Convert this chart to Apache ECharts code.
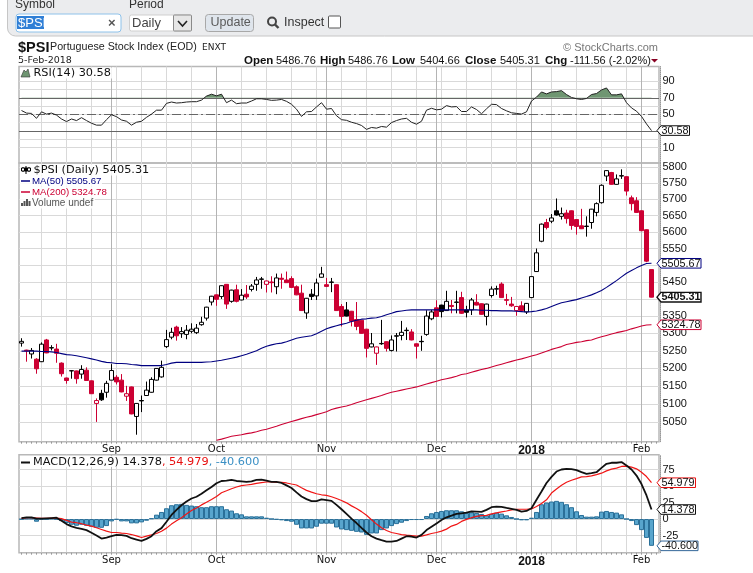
<!DOCTYPE html>
<html><head><meta charset="utf-8">
<style>html,body{margin:0;padding:0;background:#fff}#c{width:753px;height:573px}</style>
<script src="https://cdn.jsdelivr.net/npm/echarts@6/dist/echarts.min.js"></script>
</head><body><div id="c"></div>
<script>
const opens=[5272,5252,5241,5226,5219,5281,5259,5255,5215,5173,5193.5,5193,5184,5195,5165,5102,5130,5133,5167,5175,5167,5122,5148,5066,5110,5124,5133,5167,5176,5262,5289,5318,5299,5297,5306,5302,5325,5344,5391,5412,5407,5443,5393,5427,5397,5414,5428,5443,5459,5443,5450,5436,5461,5456,5460,5436,5417,5359,5414,5409,5464,5442,5450,5442,5378,5368,5364,5340,5338,5312,5261,5243,5271,5276,5251,5293,5294,5309,5304,5270,5277,5297,5342,5374,5382,5366,5381,5391,5404,5368,5368,5390,5386,5349,5410,5430,5444,5398,5385,5366,5380,5362,5404,5481,5572,5629,5633,5665,5648,5658,5665,5638,5619,5618,5629,5660,5690,5773,5784,5747,5774,5771,5705,5696,5665,5607,5486.76];
const closes=[5277,5250,5251,5199,5269,5244,5258,5243,5185,5166,5193,5171,5197,5166,5129,5110,5112,5158,5194,5162,5134,5129,5073,5102,5109,5139,5169,5200,5203,5282,5303,5293,5305,5309,5312,5315,5332,5376,5408,5399,5439,5385,5426,5393,5411,5406,5438,5456,5458,5453,5448,5462,5458,5448,5434,5412,5366,5402,5407,5447,5474,5437,5449,5366,5349,5350,5335,5320,5300,5257,5270,5261,5270,5257,5281,5292,5303,5308,5281,5263,5276,5350,5362,5349,5363,5393,5378,5390,5358,5361,5397,5382,5355,5385,5429,5429,5404,5396,5380,5378,5366,5387,5466,5537,5624,5614,5643,5652,5656,5641,5620,5617,5610,5617,5670,5687,5744,5790,5747,5764,5773,5726,5687,5660,5604,5512,5405.31];
const lows=[5262,5219,5228,5185,5218,5243,5251,5216,5177,5157,5171,5157,5171,5165,5129,5051,5109,5118,5167,5155,5133,5109,5072,5016,5078,5123,5132,5166,5174,5258,5283,5279,5287,5283,5300,5298,5322,5337,5381,5380,5400,5371,5389,5390,5396,5400,5422,5424,5430,5419,5419,5414,5430,5447,5432,5411,5365,5342,5397,5397,5463,5435,5420,5365,5320,5349,5320,5309,5299,5231,5260,5210,5267,5248,5248,5248,5280,5281,5280,5228,5250,5293,5338,5348,5346,5365,5358,5358,5356,5346,5353,5381,5354,5323,5404,5412,5403,5382,5377,5351,5363,5356,5403,5480,5569,5608,5627,5650,5638,5626,5607,5592,5609,5586,5610,5648,5687,5757,5746,5746,5764,5712,5666,5659,5603,5509,5404.66];
const highs=[5286,5253,5258,5229,5274,5284,5266,5270,5217,5174,5195,5194,5209,5203,5166,5116,5140,5165,5212,5181,5184,5151,5149,5103,5124,5163,5175,5201,5222,5310,5316,5322,5318,5324,5329,5327,5348,5377,5409,5413,5440,5444,5427,5442,5429,5441,5444,5465,5465,5454,5467,5475,5475,5481,5467,5440,5442,5403,5429,5460,5495,5462,5462,5443,5385,5391,5365,5391,5339,5313,5301,5262,5339,5277,5294,5301,5336,5317,5312,5271,5293,5367,5368,5396,5383,5424,5397,5424,5421,5380,5403,5414,5387,5386,5437,5439,5449,5415,5406,5379,5393,5388,5467,5550,5626,5640,5655,5703,5675,5668,5666,5639,5671,5648,5671,5691,5747,5791,5786,5778,5794,5772,5712,5707,5666,5608,5486.76];
const ma50=[5249,5249,5249,5249,5248,5248,5247,5245,5242,5239,5238,5236,5233,5230,5227,5224,5220,5217,5216,5214,5214,5213,5211,5210,5208,5208,5208,5208,5208,5211,5215,5217,5217,5217,5217,5217,5217,5218,5219,5221,5223,5226,5229,5232,5236,5240,5245,5250,5257,5263,5267,5270,5272,5276,5281,5286,5289,5291,5293,5299,5306,5313,5318,5322,5326,5329,5334,5338,5341,5342,5344,5345,5349,5354,5358,5363,5365,5367,5368,5368,5368,5368,5368,5368,5368,5368,5368,5368,5368,5368,5368,5368,5367,5367,5366,5366,5365,5365,5365,5364,5363,5362,5363,5365,5368,5372,5378,5384,5389,5392,5395,5398,5403,5407,5412,5418,5425,5434,5444,5454,5465,5476,5484,5492,5499,5505,5505.67];
const ma200=[null,null,null,null,null,null,null,null,null,null,null,null,null,null,null,null,null,null,null,null,null,null,null,null,null,null,null,null,null,null,null,null,null,null,null,null,null,null,null,5001,5004,5008,5012,5014,5016,5019,5021,5024,5028,5031,5035,5039,5044,5048,5052,5056,5060,5064,5067,5071,5075,5079,5085,5089,5092,5095,5099,5104,5108,5112,5116,5120,5124,5129,5133,5136,5139,5142,5145,5148,5152,5156,5160,5164,5168,5171,5174,5178,5183,5185,5189,5193,5197,5200,5204,5208,5212,5216,5220,5224,5227,5231,5235,5239,5244,5249,5254,5258,5262,5268,5271,5274,5276,5279,5281,5286,5290,5294,5298,5302,5305,5308,5313,5317,5321,5324,5324.78];
const rsi=[54.7,51.6,51.2,45.3,53.1,50.4,51.6,49.2,44.5,41.4,44.5,42.6,46.1,42.6,39.4,37.1,37.1,43.7,49.6,47.3,43.3,41.8,37.1,40.6,41.8,46.5,50.4,55.1,55.1,63.3,64.9,63.7,64.1,64.9,65.3,65.3,67.2,72,74.3,72.3,74.3,64.1,67.2,62.9,63.7,63.7,66.1,68.8,68.8,68,66.9,67.2,68,65.7,62.2,56.3,47.6,53.1,53.5,59,64.1,56.3,57.1,48.4,43.7,42.9,40.6,39,36.7,32,34.3,33.5,35.5,34.7,40.2,42.6,44.5,45.3,40.6,38.2,41.8,55.1,57.4,55.5,56.3,60.6,59,59.4,53.5,53.5,59,55.9,50.8,56.7,62.2,61.8,57.1,54.3,52,51.2,50.4,53.1,66.1,70.8,77,74.7,77,77.4,78.6,73.9,70.4,68.8,68,69.2,73.9,75.1,79.4,81.8,73.5,73.5,74.7,64.1,57.8,53.9,47.6,38.6,30.58];
const macd=[1.5,2.6,2.6,.5,.5,1,1.5,2,-2.6,-7.7,-11.2,-13.3,-14.8,-16.8,-20.9,-25,-29.6,-28,-26,-24,-24.5,-25.5,-29.1,-31.1,-33.2,-30.1,-26,-18.4,-13.8,-4.1,6.1,13.8,20.9,26.5,31.1,33.7,38.3,43.4,48.5,54.1,57.6,58.1,59.2,57.6,57.1,56.1,57.1,59.2,59.7,58.1,56.1,56.1,54.6,51,46.9,40.3,34.2,30.1,27,27,29.6,28.6,27.5,21.4,14.8,7.7,.5,-6.1,-13.3,-20.4,-26,-29.6,-32.1,-34.2,-34.2,-33.2,-29.6,-26,-26.5,-28,-24,-16.8,-11.7,-6.6,-1.5,2.6,5.1,7.7,8.7,9.7,11.7,11.2,10.7,13.8,17.9,18.9,18.4,16.8,15.3,13.8,11.2,12.2,16.3,29.1,41.8,54.6,63.8,71.9,75,76,75.5,74,70.9,68.3,69.4,70.9,77.5,83.6,85.2,85.2,86.2,81.1,75,65.8,53,35.7,14.378];
const signalLine=[1,2,2,1.5,1,1,1.5,1.5,.5,-2,-4.6,-5.6,-7.1,-9.2,-10.7,-13.3,-15.8,-18.4,-20.4,-20.4,-21.4,-21.9,-23.5,-25.5,-28,-26,-24,-21.9,-18.4,-13.8,-7.7,-2.6,2,7.7,12.8,16.8,21.4,25.5,29.6,34.2,39.8,42.8,45.9,48.5,50.5,51.5,52.5,54.1,55.1,56.1,56.1,55.6,55.6,54.6,53,51.5,47.4,43.4,40.8,38.3,36.7,35.7,33.7,31.1,28,24.5,19.9,15.8,11.2,5.6,-1,-7.7,-13.3,-17.3,-20.4,-21.9,-23.5,-24.5,-25,-26,-26,-24,-21.9,-20.4,-18.4,-15.3,-10.7,-8.2,-3.6,-.5,2,4.1,5.1,5.6,7.7,9.2,10.7,12.2,13.8,14.8,14.8,14.8,15.3,18.9,23.5,29.1,39.3,45.4,51,55.6,58.7,61.2,63.8,64.3,65.3,67.3,69.4,72.9,75.5,77,79.6,80.1,78.5,76,70.9,64.3,54.979];
const hist=[-.5,.6,.6,-4.1,-1,-.5,.5,-.5,-3.1,-6.1,-8.7,-10.2,-8.7,-10.2,-11.7,-13.3,-13.3,-10.7,-3.6,-1,-3.6,-3.6,-6.6,-6.6,-5.1,-2.6,1,6.6,10.7,16.3,20.9,22.4,23,21.4,20.4,19.4,17.9,17.9,19.4,19.4,19.4,14.8,12.8,8.7,7.1,4.1,4.1,4.1,4.1,2,0,-1,-2,-3.1,-4.1,-8.7,-14.3,-14.3,-14.3,-11.7,-7.1,-7.1,-7.1,-12.8,-15.8,-16.8,-17.9,-19.4,-20.4,-24,-21.9,-21.9,-16.8,-14.3,-10.7,-7.7,-5.6,-3.1,-1.5,-1.5,-1.5,4.6,8.7,10.7,12.2,13.3,13.3,13.3,11.7,9.2,10.2,9.2,7.7,5.6,7.7,9.7,8.2,5.6,3.1,0,-2,-2,2,10.7,22.4,25,26.5,27.5,26,22.4,17.9,11.7,6.1,3.6,3.6,4.1,11.2,12.2,10.7,9.7,7.1,0,-3.1,-9.2,-16.8,-28.6,-40.6];
const monthTicks={18:'Sep',39:'Oct',61:'Nov',83:'Dec',102:'2018',124:'Feb'};
const weekTicks=[4,9,14,19,24,29,34,39,44,49,54,59,64,69,74,79,84,89,94,99,106,111,116,121];
const priceTicks=[5050,5100,5150,5200,5250,5300,5350,5400,5450,5500,5550,5600,5650,5700,5750,5800];
const rsiLabels=[10,30,50,70,90];
const rsiGrid=[10,20,30,40,50,60,70,80,90];
const macdTicks=[-25,0,25,50,75];

const SANS='"Liberation Sans",Arial,sans-serif', DJ='"DejaVu Sans",sans-serif';
const RED='#cc0033', NAVY='#000080', GREY='#d9d9d9', DARK='#b4b4b4', BORDER='#b8b8b8';
const cats=Array.from({length:128},(_,i)=>String(i));
const weekSet=new Set(weekTicks);

const candleData=opens.map((o,i)=>{
  const c=closes[i], prev=i?closes[i-1]:o, col=c>=prev?'#000':RED, fill=(c>o)?'#fff':col;
  return {value:[o,c,lows[i],highs[i]],itemStyle:{color:fill,color0:fill,borderColor:col,borderColor0:col,borderWidth:1}};
});

const chart=echarts.init(document.getElementById('c'),null,{renderer:'canvas'});
const LEFT=19,WIDTH=640;
const grids=[{top:66.5,height:96.5},{top:163,height:278.7},{top:454.7,height:98}];
const xAxes=[];
grids.forEach((g,k)=>{
  xAxes.push({type:'category',gridIndex:k,position:'bottom',data:cats,boundaryGap:true,
    axisLine:{show:false,onZero:false},
    axisTick:{show:k>0,interval:0,length:2,alignWithLabel:true,lineStyle:{color:'#999'}},
    axisLabel:{show:false},
    splitLine:{show:true,alignWithLabel:true,interval:i=>weekSet.has(i),lineStyle:{color:GREY,width:1}}});
  xAxes.push({type:'category',gridIndex:k,position:'bottom',data:cats,boundaryGap:true,
    axisLine:{show:false,onZero:false},axisTick:{show:false},
    axisLabel:{show:k>0,interval:i=>i in monthTicks,margin:3,fontFamily:DJ,fontSize:10,color:'#111',
      formatter:(v,i)=>monthTicks[i]==='2018'?'{b|2018}':(monthTicks[i]||''),
      rich:{b:{fontFamily:SANS,fontWeight:'bold',fontSize:12,color:'#111'}}},
    splitLine:{show:true,alignWithLabel:true,interval:i=>i in monthTicks,lineStyle:{color:DARK,width:1}}});
});
const yLab={fontFamily:SANS,fontSize:11,color:'#111',margin:2};
const yLine={show:true,onZero:false,lineStyle:{color:'#999',type:'dotted',width:1}};
const yAxes=[
 {type:'value',gridIndex:0,position:'right',offset:1.5,min:-8.4,max:107.6,
  axisLine:yLine,
  axisTick:{show:false,customValues:rsiGrid},
  axisLabel:{...yLab,customValues:rsiLabels},
  splitLine:{show:true,lineStyle:{color:GREY}}},
 {type:'log',logBase:10,gridIndex:1,position:'right',offset:1.5,min:4997,max:5814,
  axisLine:yLine,
  axisTick:{show:false,customValues:priceTicks},
  axisLabel:{...yLab,customValues:priceTicks,formatter:v=>String(Math.round(v))},
  splitLine:{show:true,lineStyle:{color:GREY}}},
 {type:'value',gridIndex:2,position:'right',offset:1.5,min:-51,max:97.4,
  axisLine:yLine,
  axisTick:{show:false,customValues:macdTicks},
  axisLabel:{...yLab,customValues:macdTicks},
  splitLine:{show:true,lineStyle:{color:GREY}}}
];
const refLine=(v,type)=>({yAxis:v,lineStyle:{color:'#666',width:1,type:type},label:{show:false}});
const series=[
 {type:'line',name:'rsiFill',xAxisIndex:0,yAxisIndex:0,data:rsi,symbol:'none',silent:true,z:2,
  lineStyle:{width:0},areaStyle:{origin:70,opacity:1,color:'rgba(0,0,0,0)'}},
 {type:'line',name:'RSI',xAxisIndex:0,yAxisIndex:0,data:rsi,symbol:'none',z:4,
  lineStyle:{color:'#222',width:1},
  markLine:{silent:true,symbol:'none',z:3,data:[refLine(70,'solid'),refLine(30,'solid'),refLine(50,[9,3,2,3])]}},
 {type:'candlestick',name:'$PSI',xAxisIndex:2,yAxisIndex:1,data:candleData,barWidth:4,z:3},
 {type:'line',name:'MA50',xAxisIndex:2,yAxisIndex:1,data:ma50,symbol:'none',z:4,lineStyle:{color:NAVY,width:1.1}},
 {type:'line',name:'MA200',xAxisIndex:2,yAxisIndex:1,data:ma200,symbol:'none',z:4,connectNulls:false,lineStyle:{color:RED,width:1.1}},
 {type:'bar',name:'hist',xAxisIndex:4,yAxisIndex:2,data:hist,barWidth:5,z:2,
  itemStyle:{color:'#58a5cd',borderColor:'#2a7099',borderWidth:1}},
 {type:'line',name:'signal',xAxisIndex:4,yAxisIndex:2,data:signalLine,symbol:'none',z:3,lineStyle:{color:'#f01515',width:1.2}},
 {type:'line',name:'MACD',xAxisIndex:4,yAxisIndex:2,data:macd,symbol:'none',z:4,lineStyle:{color:'#111',width:1.8}}
];
chart.setOption({
 animation:false,backgroundColor:'#fff',
 grid:grids.map(g=>({left:LEFT,width:WIDTH,top:g.top,height:g.height,show:true,borderColor:BORDER,borderWidth:1.5,backgroundColor:'transparent'})),
 xAxis:xAxes,yAxis:yAxes,series
});

const T=(x,y,text,o={})=>({type:'text',z:50,silent:true,style:Object.assign({x,y,text,fill:'#111',font:'12px '+SANS,textVerticalAlign:'middle',textAlign:'left'},o)});
const R=(x,y,w,h,fill,stroke,r=0,lw=1,z=49)=>({type:'rect',z,silent:true,shape:{x,y,width:w,height:h,r},style:{fill,stroke,lineWidth:lw}});
const L=(x1,y1,x2,y2,stroke,lw=1)=>({type:'line',z:50,silent:true,shape:{x1,y1,x2,y2},style:{stroke,lineWidth:lw}});
const G=[];
// toolbar
G.push(R(7.5,-8,770,44,'#ebecee','#c6c6c6',8,1,40));
G.push(T(15,5,'Symbol',{fill:'#333'}),T(129,5,'Period',{fill:'#333'}));
G.push(R(16,14,105,18,'#fff','#8ec2ea',3));
G.push(R(17,16,27,13,'#2f7fd6',null));
G.push(T(18,23,'$PSI',{fill:'#fff',font:'13px '+SANS}));
G.push(T(108,23.5,'×',{fill:'#555',font:'bold 13px '+SANS}));
G.push(R(129.5,15,62,16,'#fff','#cfcfcf',2));
G.push(T(132,23,'Daily',{fill:'#444',font:'13px '+SANS}));
G.push(R(173.5,15,18,16,'#e6e6e6','#8a8a8a',1));
G.push({type:'polyline',z:51,silent:true,shape:{points:[[178,21],[182.5,26],[187,21]]},style:{stroke:'#222',lineWidth:1.6,fill:null}});
G.push(R(205.5,14.5,48,17,'#dfe5ec','#a8a8a8',3));
G.push(T(210.5,23,'Update',{fill:'#5a5a5a',font:'12.5px '+SANS}));
G.push({type:'circle',z:50,silent:true,shape:{cx:272,cy:21.5,r:4},style:{stroke:'#444',lineWidth:2,fill:null}});
G.push(L(275,24.5,278.5,28,'#444',2.4));
G.push(T(284,23,'Inspect',{fill:'#333',font:'12.5px '+SANS}));
G.push(R(328.5,16,12,12,'#fff','#555',1));
// header
G.push(T(18,47.5,'$PSI',{font:'bold 14.5px '+SANS}));
G.push(T(50,47.5,'Portuguese Stock Index (EOD)',{font:'10.7px '+SANS,fill:'#222'}));
G.push(T(202,48,'ENXT',{font:'9px '+DJ,fill:'#222'}));
G.push(T(18,60.5,'5-Feb-2018',{font:'9.5px '+DJ,fill:'#222'}));
[[244,'Open',1],[276,'5486.76',0],[320,'High',1],[348,'5486.76',0],[392,'Low',1],[420,'5404.66',0],[465,'Close',1],[500,'5405.31',0],[545,'Chg',1],[570,'-111.56 (-2.02%)',0]].forEach(a=>{
  G.push(T(a[0],60.5,a[1],{font:(a[2]?'bold 11.5px ':'11px ')+SANS,fill:'#111'}));
});
G.push({type:'polygon',z:50,silent:true,shape:{points:[[651,59],[658,59],[654.5,62.5]]},style:{fill:'#880022'}});
G.push(T(658,47.5,'© StockCharts.com',{textAlign:'right',font:'11px '+SANS,fill:'#777'}));
// legends
const legendBg=(x,y,w,h)=>R(x,y,w,h,'rgba(255,255,255,0.85)',null,0,0,30);
G.push(legendBg(20,67.5,94,11));
G.push({type:'polygon',z:50,silent:true,shape:{points:[[21,77],[24,70],[26,72],[28,69],[30,77]]},style:{fill:'#6f9672',stroke:'#333',lineWidth:.6}});
G.push(T(33.5,73,'RSI(14) 30.58',{font:'11.3px '+DJ,fill:'#111'}));
G.push(legendBg(20,164.5,130,11));
G.push(legendBg(20,175.5,82,11));
G.push(legendBg(20,186.5,86,11));
G.push(legendBg(20,197.5,75,11));
[[23,167,172],[26,166,174],[29,167,172]].forEach(a=>{G.push(L(a[0],a[1],a[0],a[2],'#000',1));G.push(R(a[0]-1.5,168,3,3,a[0]==26?'#000':'#fff','#000',0,1,51));});
G.push(T(33.5,170.5,'$PSI (Daily) 5405.31',{font:'11.3px '+DJ,fill:'#111'}));
G.push(L(21,181,30,181,NAVY,1.5));
G.push(T(32,181.5,'MA(50) 5505.67',{font:'9.7px '+SANS,fill:NAVY}));
G.push(L(21,192,30,192,RED,1.5));
G.push(T(32,192.5,'MA(200) 5324.78',{font:'9.7px '+SANS,fill:RED}));
[[22,3],[24.5,5],[27,7],[29.5,5]].forEach(a=>G.push(R(a[0]-1,206-a[1],2,a[1],'#555',null)));
G.push(T(32,203,'Volume undef',{font:'10px '+SANS,fill:'#555'}));
G.push(legendBg(20,456,241,11));
G.push(L(21,462.5,30,462.5,'#111',2));
G.push({type:'text',z:50,silent:true,style:{x:33,y:462.5,textVerticalAlign:'middle',font:'11.3px '+DJ,
  text:'{a|MACD(12,26,9) 14.378}{b|, 54.979}{c|, -40.600}',
  rich:{a:{fill:'#111',font:'11.3px '+DJ},b:{fill:'#e81010',font:'11.3px '+DJ},c:{fill:'#3a8fc4',font:'11.3px '+DJ}}}});
// value tags
const tag=(axis,val,txt,col,right,bold)=>{
  const y=chart.convertToPixel({yAxisIndex:axis},val), x=657, h=4.8;
  G.push({type:'polygon',z:60,silent:true,shape:{points:[[x,y],[x+4,y-h],[right,y-h],[right,y+h],[x+4,y+h]]},style:{fill:'#fff',stroke:col,lineWidth:bold?1.4:1}});
  G.push({type:'text',z:61,silent:true,style:{x:x+4.5,y:y+.3,text:txt,fill:'#111',font:(bold?'bold ':'')+'10.8px '+SANS,textVerticalAlign:'middle'}});
};
tag(0,rsi[126],'30.58','#111',689.5,false);
tag(1,ma50[126],'5505.67','#000080',701,false);
tag(1,closes[126],'5405.31','#111',701,true);
tag(1,ma200[126],'5324.78',RED,701,false);
tag(2,signalLine[126],'54.979','#e81010',695.5,false);
tag(2,macd[126],'14.378','#111',695.5,false);
tag(2,hist[126],'-40.600','#336699',698,false);
// green fill above the RSI 70 line
const y70=chart.convertToPixel({yAxisIndex:0},70)/573;
chart.setOption({graphic:{elements:G},series:[{areaStyle:{origin:70,opacity:1,color:{type:'linear',x:0,y:0,x2:0,y2:573,global:true,colorStops:[{offset:0,color:'#6f9672'},{offset:y70,color:'#6f9672'},{offset:y70,color:'rgba(0,0,0,0)'},{offset:1,color:'rgba(0,0,0,0)'}]}}}]});
</script></body></html>
